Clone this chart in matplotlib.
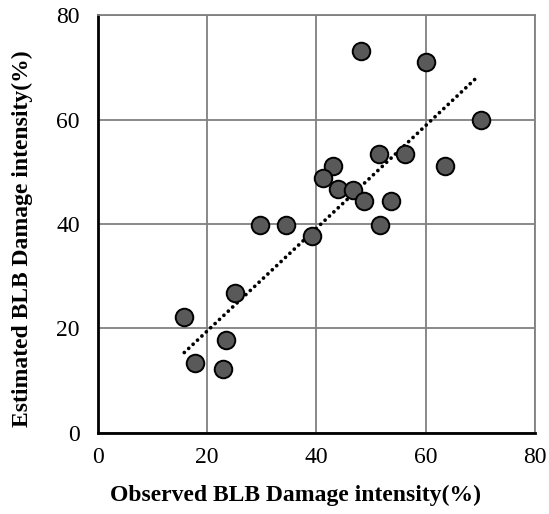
import numpy as np
import matplotlib.pyplot as plt

plt.rcParams['font.family'] = ['Liberation Serif', 'DejaVu Serif']

observed = [48.1, 60.0, 70.2, 51.4, 56.2, 63.6, 43.0, 41.2, 44.0, 46.6, 48.7,
            53.7, 29.7, 34.4, 51.6, 39.1, 25.0, 15.8, 23.5, 17.8, 22.9]
estimated = [73.2, 71.0, 59.9, 53.4, 53.4, 51.1, 51.1, 48.8, 46.7, 46.6, 44.4,
             44.4, 39.8, 39.8, 39.8, 37.7, 26.7, 22.2, 17.8, 13.4, 12.2]
ticks = [0, 20, 40, 60, 80]

# trendline
trend_range = [15.8, 69.2]
trend_slope = 0.983
trend_intercept = -0.13

fig = plt.figure(figsize=(5.49, 5.14), dpi=100)
ax = fig.add_axes([0.1785, 0.1576, 0.796, 0.8132])

xs = np.array(trend_range)
ax.plot(xs, trend_slope * xs + trend_intercept, color='black',
        linestyle=(0, (0.01, 1.6)), linewidth=2.7, dash_capstyle='round',
        zorder=2)

ax.scatter(observed, estimated, s=160, color='#595959', edgecolors='black',
           linewidths=1.4, zorder=3)

ax.set_xlim(0, 80)
ax.set_ylim(0, 80)
ax.set_xticks(ticks)
ax.set_yticks(ticks)
ax.grid(True, color='#808080', linewidth=1.3)
ax.set_axisbelow(True)
ax.tick_params(length=0, labelsize=17, pad=13)
ax.tick_params(axis='x', pad=10)

for side in ['top', 'right']:
    ax.spines[side].set_color('#808080')
    ax.spines[side].set_linewidth(1.3)
for side in ['left', 'bottom']:
    ax.spines[side].set_color('black')
    ax.spines[side].set_linewidth(2)

ax.set_xlabel('Observed BLB Damage intensity(%)', fontsize=17, fontweight='bold')
ax.set_ylabel('Estimated BLB Damage intensity(%)', fontsize=17, fontweight='bold')
ax.xaxis.set_label_coords(0.451, -0.124)
ax.yaxis.set_label_coords(-0.149, 0.466)

fig.savefig('out.png', dpi=100)
